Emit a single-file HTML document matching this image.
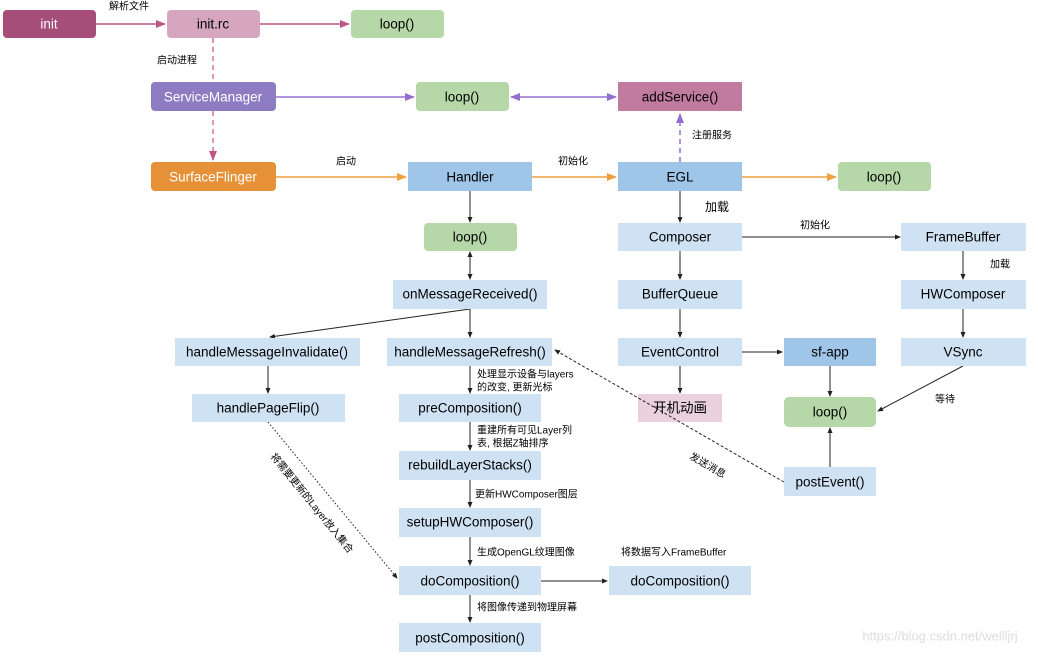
<!DOCTYPE html>
<html><head><meta charset="utf-8"><style>
html,body{margin:0;padding:0;background:#fff;}
svg text{font-family:"Liberation Sans","Noto Sans CJK SC",sans-serif;}
</style></head><body>
<svg width="1038" height="654" viewBox="0 0 1038 654" xmlns="http://www.w3.org/2000/svg">
<defs>
<marker id="ak" markerWidth="6" markerHeight="6" refX="5" refY="3" orient="auto-start-reverse" markerUnits="userSpaceOnUse"><path d="M0,0.5 L6,3 L0,5.5z" fill="#222"/></marker>
<marker id="ap" markerWidth="10" markerHeight="10" refX="9" refY="5" orient="auto-start-reverse" markerUnits="userSpaceOnUse"><path d="M0,1 L10,5 L0,9z" fill="#c0558a"/></marker>
<marker id="av" markerWidth="10" markerHeight="10" refX="9" refY="5" orient="auto-start-reverse" markerUnits="userSpaceOnUse"><path d="M0,1 L10,5 L0,9z" fill="#9370d0"/></marker>
<marker id="ao" markerWidth="10" markerHeight="10" refX="9" refY="5" orient="auto-start-reverse" markerUnits="userSpaceOnUse"><path d="M0,1 L10,5 L0,9z" fill="#f0a040"/></marker>
</defs>
<g font-size="13.5" text-anchor="middle" dominant-baseline="central">
<g fill="none">
<line x1="96" y1="24" x2="165" y2="24" stroke="#c0558a" stroke-width="1.5" marker-end="url(#ap)"/>
<line x1="260" y1="24" x2="349" y2="24" stroke="#c0558a" stroke-width="1.5" marker-end="url(#ap)"/>
<line x1="213" y1="38" x2="213" y2="82" stroke="#d070a0" stroke-width="1.5" stroke-dasharray="5,4"/>
<line x1="213" y1="111" x2="213" y2="160" stroke="#d070a0" stroke-width="1.5" stroke-dasharray="5,4" marker-end="url(#ap)"/>
<line x1="276" y1="97" x2="414" y2="97" stroke="#9370d0" stroke-width="1.5" marker-end="url(#av)"/>
<line x1="511" y1="97" x2="616" y2="97" stroke="#9370d0" stroke-width="1.5" marker-end="url(#av)" marker-start="url(#av)"/>
<line x1="680" y1="162" x2="680" y2="114" stroke="#9370d0" stroke-width="1.5" stroke-dasharray="5,4" marker-end="url(#av)"/>
<line x1="276" y1="177" x2="406" y2="177" stroke="#f0a040" stroke-width="1.5" marker-end="url(#ao)"/>
<line x1="532" y1="177" x2="616" y2="177" stroke="#f0a040" stroke-width="1.5" marker-end="url(#ao)"/>
<line x1="742" y1="177" x2="836" y2="177" stroke="#f0a040" stroke-width="1.5" marker-end="url(#ao)"/>
<g stroke="#222" stroke-width="1">
<line x1="470" y1="191" x2="470" y2="222" marker-end="url(#ak)"/>
<line x1="470" y1="252" x2="470" y2="279" marker-end="url(#ak)" marker-start="url(#ak)"/>
<line x1="470" y1="309" x2="270" y2="337" marker-end="url(#ak)"/>
<line x1="470" y1="309" x2="470" y2="337" marker-end="url(#ak)"/>
<line x1="268" y1="366" x2="268" y2="393" marker-end="url(#ak)"/>
<line x1="470" y1="366" x2="470" y2="393" marker-end="url(#ak)"/>
<line x1="470" y1="422" x2="470" y2="450" marker-end="url(#ak)"/>
<line x1="470" y1="480" x2="470" y2="507" marker-end="url(#ak)"/>
<line x1="470" y1="537" x2="470" y2="565" marker-end="url(#ak)"/>
<line x1="470" y1="595" x2="470" y2="622" marker-end="url(#ak)"/>
<line x1="541" y1="581" x2="607" y2="581" marker-end="url(#ak)"/>
<line x1="680" y1="191" x2="680" y2="222" marker-end="url(#ak)"/>
<line x1="680" y1="251" x2="680" y2="279" marker-end="url(#ak)"/>
<line x1="680" y1="309" x2="680" y2="337" marker-end="url(#ak)"/>
<line x1="680" y1="366" x2="680" y2="393" marker-end="url(#ak)"/>
<line x1="742" y1="237" x2="900" y2="237" marker-end="url(#ak)"/>
<line x1="742" y1="352" x2="782" y2="352" marker-end="url(#ak)"/>
<line x1="963" y1="251" x2="963" y2="279" marker-end="url(#ak)"/>
<line x1="963" y1="309" x2="963" y2="337" marker-end="url(#ak)"/>
<line x1="830" y1="366" x2="830" y2="396" marker-end="url(#ak)"/>
<line x1="963" y1="366" x2="878" y2="411" marker-end="url(#ak)"/>
<line x1="830" y1="467" x2="830" y2="428" marker-end="url(#ak)"/>
<line x1="268" y1="422" x2="397" y2="578" stroke-dasharray="1.5,2" marker-end="url(#ak)"/>
</g>
</g>
<rect x="3" y="10" width="93" height="28" rx="4" fill="#a64d79"/><text x="49" y="24" fill="#fff">init</text>
<rect x="167" y="10" width="93" height="28" rx="4" fill="#d5a6bd"/><text x="213" y="24">init.rc</text>
<rect x="351" y="10" width="93" height="28" rx="4" fill="#b6d7a8"/><text x="397" y="24">loop()</text>
<rect x="151" y="82" width="125" height="29" rx="4" fill="#8e7cc3"/><text x="213" y="97" fill="#fff">ServiceManager</text>
<rect x="416" y="82" width="93" height="29" rx="4" fill="#b6d7a8"/><text x="462" y="97">loop()</text>
<rect x="618" y="82" width="124" height="29" fill="#c27ba0"/><text x="680" y="97">addService()</text>
<rect x="151" y="162" width="125" height="29" rx="4" fill="#e69138"/><text x="213" y="177" fill="#fff">SurfaceFlinger</text>
<rect x="408" y="162" width="124" height="29" fill="#9fc5e8"/><text x="470" y="177">Handler</text>
<rect x="618" y="162" width="124" height="29" fill="#9fc5e8"/><text x="680" y="177">EGL</text>
<rect x="838" y="162" width="93" height="29" rx="4" fill="#b6d7a8"/><text x="884" y="177">loop()</text>
<rect x="424" y="223" width="93" height="28" rx="4" fill="#b6d7a8"/><text x="470" y="237">loop()</text>
<g fill="#cfe2f3">
<rect x="618" y="223" width="124" height="28"/><rect x="901" y="223" width="125" height="28"/>
<rect x="393" y="280" width="154" height="29"/><rect x="618" y="280" width="124" height="29"/><rect x="901" y="280" width="125" height="29"/>
<rect x="175" y="338" width="185" height="28"/><rect x="387" y="338" width="165" height="28"/><rect x="618" y="338" width="124" height="28"/><rect x="901" y="338" width="125" height="28"/>
<rect x="192" y="394" width="153" height="28"/><rect x="399" y="394" width="142" height="28"/>
<rect x="399" y="451" width="142" height="29"/><rect x="784" y="467" width="92" height="29"/>
<rect x="399" y="508" width="142" height="29"/><rect x="399" y="566" width="142" height="29"/><rect x="609" y="566" width="142" height="29"/><rect x="399" y="623" width="142" height="29"/>
</g>
<rect x="784" y="338" width="92" height="28" fill="#9fc5e8"/>
<rect x="638" y="394" width="84" height="28" fill="#ead1dc"/>
<rect x="784" y="397" width="92" height="30" rx="5" fill="#b6d7a8"/>
<line x1="784" y1="482" x2="555" y2="350" stroke="#222" stroke-width="1" stroke-dasharray="3,2" marker-end="url(#ak)"/>
<text x="680" y="237">Composer</text><text x="963" y="237">FrameBuffer</text>
<text x="470" y="294">onMessageReceived()</text><text x="680" y="294">BufferQueue</text><text x="963" y="294">HWComposer</text>
<text x="267" y="352">handleMessageInvalidate()</text><text x="470" y="352">handleMessageRefresh()</text><text x="680" y="352">EventControl</text><text x="830" y="352">sf-app</text><text x="963" y="352">VSync</text>
<text x="268" y="408">handlePageFlip()</text><text x="470" y="408">preComposition()</text><text x="680" y="408">开机动画</text><text x="830" y="412">loop()</text>
<text x="470" y="465">rebuildLayerStacks()</text><text x="830" y="482">postEvent()</text>
<text x="470" y="522">setupHWComposer()</text><text x="470" y="581">doComposition()</text><text x="680" y="581">doComposition()</text><text x="470" y="638">postComposition()</text>
<g font-size="10" text-anchor="start">
<text x="109" y="7">解析文件</text>
<text x="157" y="61">启动进程</text>
<text x="336" y="162">启动</text>
<text x="558" y="162">初始化</text>
<text x="692" y="136">注册服务</text>
<text x="705" y="207" font-size="12">加载</text>
<text x="800" y="226">初始化</text>
<text x="990" y="265">加载</text>
<text x="935" y="400">等待</text>
<text x="477" y="375">处理显示设备与layers</text>
<text x="477" y="388">的改变, 更新光标</text>
<text x="477" y="431">重建所有可见Layer列</text>
<text x="477" y="444">表, 根据Z轴排序</text>
<text x="475" y="495">更新HWComposer图层</text>
<text x="477" y="553">生成OpenGL纹理图像</text>
<text x="621" y="553">将数据写入FrameBuffer</text>
<text x="477" y="608">将图像传递到物理屏幕</text>
<text x="0" y="0" transform="translate(690,456) rotate(30)">发送消息</text>
<text x="0" y="0" transform="translate(272,455) rotate(51)">将需要更新的Layer放入集合</text>
</g>
<text x="940" y="636" font-size="13" fill="#ddd">https://blog.csdn.net/wellljrj</text>
</g>
</svg>
</body></html>
